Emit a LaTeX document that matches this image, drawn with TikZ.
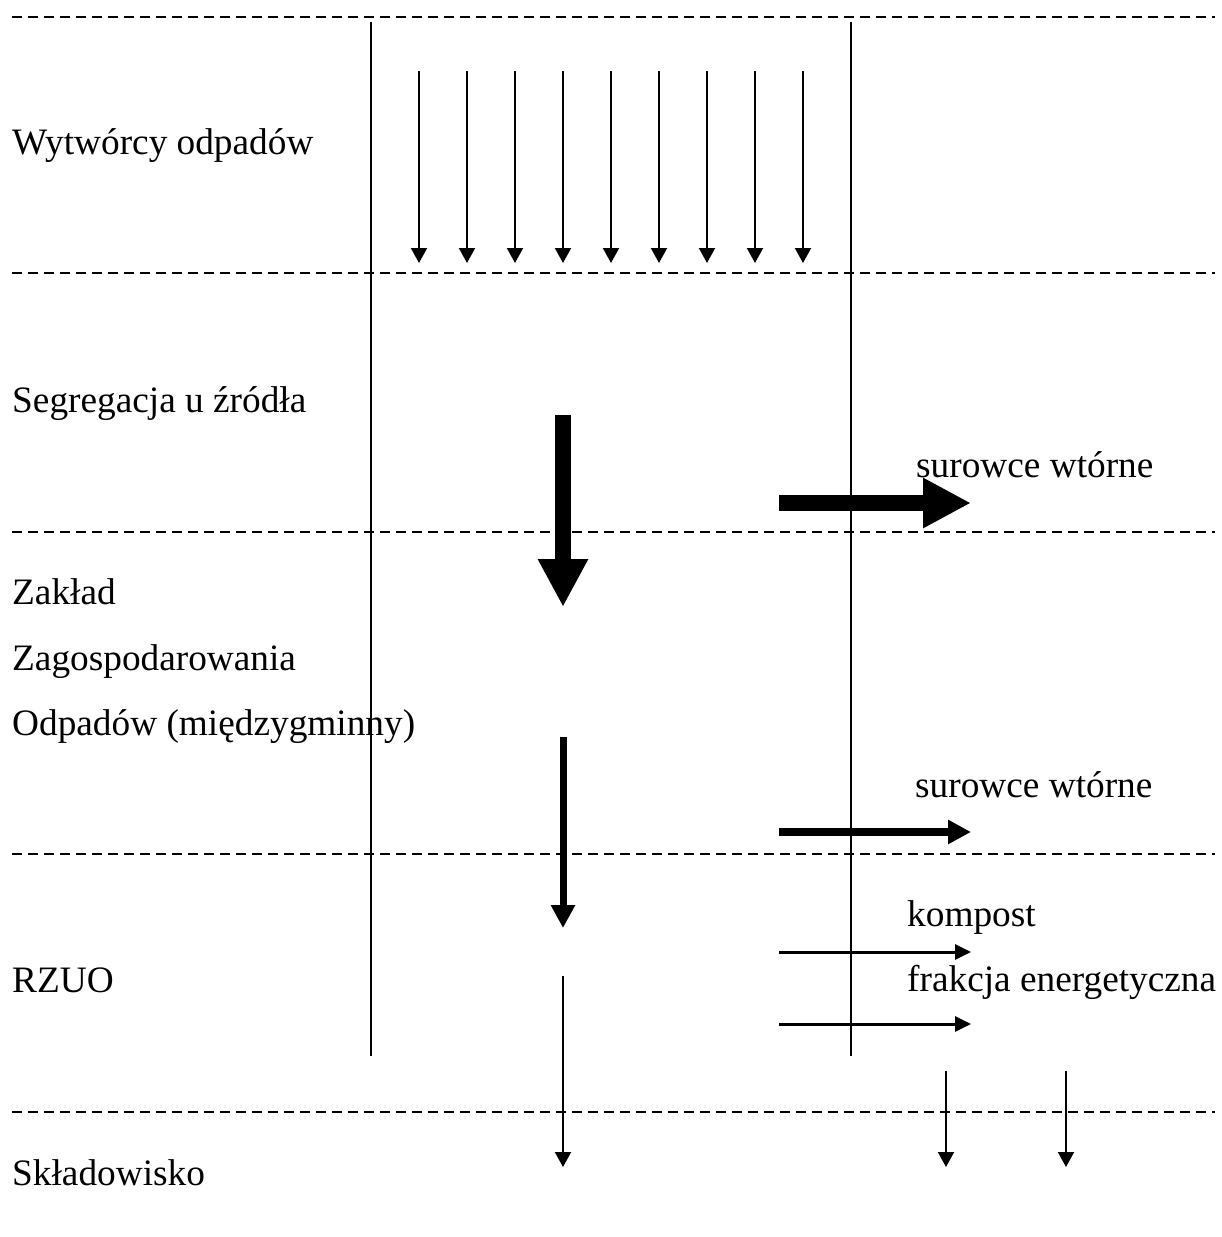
\documentclass[tikz,border=0pt]{standalone}
\usepackage{fontspec}
\setmainfont{Liberation Serif}
\usepackage{tikz}
\usetikzlibrary{arrows.meta}

\tikzset{
  pas/.style={line width=2pt, dash pattern=on 10pt off 6pt},
  kolumna/.style={line width=2pt},
  opis/.style={anchor=base west, inner sep=0pt, font=\fontsize{37.3}{42}\selectfont},
  cienka/.style={line width=2pt, -{Triangle[length=15pt,width=16pt]}},
  srednia/.style={line width=3pt, -{Triangle[length=16pt,width=15pt]}},
  gruba/.style={line width=8pt, -{Triangle[length=23pt,width=23pt]}},
  masywna/.style={line width=16pt, -{Triangle[length=48pt,width=47pt]}}
}

\begin{document}
\begin{tikzpicture}[x=1pt,y=-1pt]
\useasboundingbox (0,0) rectangle (1222,1237);
%
\draw[pas] (12,17) -- (1215,17);
\draw[pas] (12,273) -- (1215,273);
\draw[pas] (12,532) -- (1215,532);
\draw[pas] (12,854) -- (1215,854);
\draw[pas] (12,1112) -- (1215,1112);
%
\draw[kolumna] (371,22) -- (371,1056);
\draw[kolumna] (851,22) -- (851,1056);
%
\node[opis] (wytworcy) at (12,154) {Wytwórcy odpadów};
\node[opis] (segregacja) at (12,412) {Segregacja u źródła};
\node[opis] (zaklad) at (12,604) {Zakład};
\node[opis] (zagosp) at (12,670) {Zagospodarowania};
\node[opis] (odpadow) at (12,735) {Odpadów (międzygminny)};
\node[opis] (rzuo) at (12,992) {RZUO};
\node[opis] (skladowisko) at (12,1185) {Składowisko};
%
\node[opis] (surowce1) at (916,477) {surowce wtórne};
\node[opis] (surowce2) at (915,797) {surowce wtórne};
\node[opis] (kompost) at (907,926) {kompost};
\node[opis] (frakcja) at (907,991) {frakcja energetyczna};
%
\foreach \x in {419,467,...,803}
  \draw[cienka] (\x,71) -- (\x,263);
%
\draw[masywna] (563,415) -- (563,607);
\draw[masywna] (779,503) -- (971,503);
%
\draw[gruba, line width=7pt] (563,737) -- (563,928);
\draw[gruba] (779,832) -- (971,832);
%
\draw[srednia] (779,952) -- (971,952);
\draw[srednia] (779,1024) -- (971,1024);
%
\draw[cienka] (563,976) -- (563,1167);
\draw[cienka] (946,1071) -- (946,1167);
\draw[cienka] (1066,1071) -- (1066,1167);
\end{tikzpicture}
\end{document}
